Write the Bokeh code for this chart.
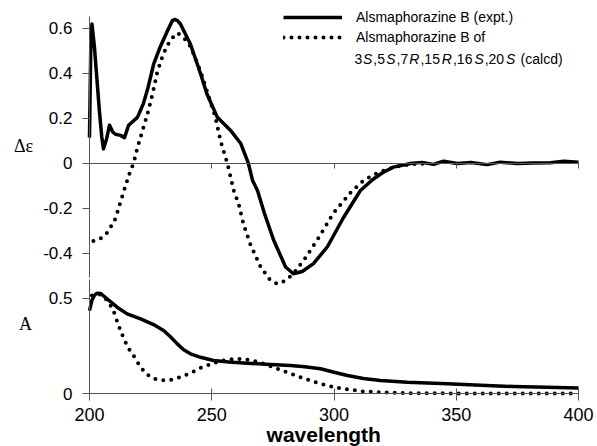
from bokeh.plotting import figure
from bokeh.models import (Range1d, LinearAxis, FixedTicker, CustomJSTickFormatter,
                          Label, Legend, LegendItem)
from bokeh.embed import file_html
from bokeh.resources import INLINE

# ---------------- data ----------------
cd_expt_wl = [200, 200.5, 201, 202, 203, 204, 205, 205.7, 207, 208.2, 209.5, 210.6, 212.7,
              214.3, 216, 219.6, 222, 224, 226.2, 229, 231.9, 233.9, 234.8, 236, 237.2,
              241.3, 245.4, 248, 252.3, 257.7, 261.8, 265, 266.7, 268.7, 271.5, 275.3,
              280.2, 283.4, 287, 291.6, 297.3, 303.9, 310.8, 316, 320, 324.3, 331.3, 336,
              340.7, 344.8, 350.4, 356, 362.6, 368, 375, 381.6, 388.5, 394, 400]
cd_expt = [0.115, 0.50, 0.62, 0.52, 0.38, 0.24, 0.12, 0.065, 0.11, 0.17, 0.14, 0.13, 0.125,
           0.115, 0.17, 0.205, 0.265, 0.34, 0.44, 0.52, 0.59, 0.635, 0.64, 0.635, 0.62,
           0.53, 0.40, 0.31, 0.205, 0.147, 0.09, 0.0, -0.076, -0.12, -0.22, -0.34,
           -0.46, -0.49, -0.48, -0.445, -0.37, -0.24, -0.12, -0.07, -0.04, -0.016, 0.0, 0.005,
           -0.004, 0.01, 0.0, 0.004, -0.005, 0.006, 0.0, 0.002, 0.003, 0.01, 0.006]

cd_calc_wl = [201.6, 203, 205.2, 207.5, 209.3, 210.6, 212.7, 214.7, 216.8, 218, 219.6, 221.7,
              223.7, 225.8, 227.8, 230.3, 233.1, 235.9, 238.5, 241.3, 245.4, 248.7, 251.5,
              253.6, 256.4, 259, 261, 263, 265.8, 270, 274, 276.9, 280.2, 283.4, 288.3,
              293.7, 299.8, 306.7, 312, 318, 325, 332, 338]
cd_calc = [-0.345, -0.34, -0.33, -0.305, -0.27, -0.245, -0.17, -0.10, -0.03, 0.0, 0.07, 0.147,
           0.22, 0.31, 0.41, 0.49, 0.55, 0.58, 0.56, 0.52, 0.41, 0.30, 0.205,
           0.10, 0.0, -0.12, -0.18, -0.27, -0.36, -0.46, -0.52, -0.535, -0.52, -0.49, -0.42,
           -0.33, -0.22, -0.13, -0.076, -0.04, -0.015, -0.003, 0.0]

uv_expt_wl = [200, 201, 202, 203, 204.5, 207.2, 211.3, 215.4, 220.9, 226.2, 230.3, 233,
              235.9, 238.5, 241.3, 245.4, 250.7, 257, 264.6, 272, 282.2, 288, 294.5, 300,
              305.5, 312, 319, 330, 346.4, 360, 373.4, 387, 400]
uv_expt = [0.435, 0.49, 0.515, 0.526, 0.525, 0.497, 0.453, 0.418, 0.392, 0.362, 0.331, 0.30,
           0.261, 0.23, 0.209, 0.191, 0.174, 0.166, 0.16, 0.155, 0.148, 0.142, 0.131, 0.113,
           0.096, 0.08, 0.07, 0.06, 0.052, 0.045, 0.038, 0.034, 0.03]

uv_calc_wl = [201, 202.5, 204.5, 206, 207.8, 209.8, 211.9, 214, 216, 218, 220.9, 223.6, 226.2,
              229.7, 233.1, 237.2, 241.3, 245.4, 250.7, 255, 258.9, 262, 264.6, 268, 271.2,
              278.1, 286.3, 294.5, 301.4, 312, 322, 332.5, 350, 375, 400]
uv_calc = [0.514, 0.52, 0.519, 0.505, 0.48, 0.435, 0.357, 0.289, 0.237, 0.2, 0.139, 0.101, 0.08,
           0.07, 0.073, 0.087, 0.108, 0.135, 0.16, 0.175, 0.183, 0.182, 0.178, 0.17, 0.158,
           0.125, 0.087, 0.052, 0.031, 0.012, 0.006, 0.003, 0.002, 0.002, 0.002]

x_ticks = [200, 250, 300, 350, 400]
cd_ticks = [-0.4, -0.2, 0, 0.2, 0.4, 0.6]
uv_ticks = [0, 0.5]

legend_labels = ["Alsmaphorazine B (expt.)", "Alsmaphorazine B of"]
# third legend line as (text, italic) runs
legend_line3 = [("3", False), ("S", True), (",5", False), ("S", True), (",7", False),
                ("R", True), (",15", False), ("R", True), (",16", False), ("S", True),
                (",20", False), ("S", True), (" (calcd)", False)]

# ---------------- figure (frame = whole canvas, axes placed inside) ----------------
AX = "#555555"
SANS = "Liberation Sans"
SERIF = "Liberation Serif"
W, H = 597, 446

p = figure(width=W, height=H, output_backend="svg", toolbar_location=None,
           x_range=Range1d(163.6, 407.77), y_range=Range1d(-1.2578, 0.7244),
           x_axis_type=None, y_axis_type=None,
           min_border_left=0, min_border_right=0, min_border_top=0, min_border_bottom=0)
p.extra_y_ranges = {"uv": Range1d(-0.2756, 2.0570)}
p.outline_line_color = None
p.background_fill_color = "white"
p.border_fill_color = "white"

fmt = CustomJSTickFormatter(code="return Math.abs(tick) < 1e-9 ? '0' : tick.toFixed(1);")


def style(ax, size, tin, tout):
    ax.axis_line_color = AX
    ax.axis_line_width = 1
    ax.major_tick_line_color = AX
    ax.major_tick_in = tin
    ax.major_tick_out = tout
    ax.minor_tick_line_color = None
    ax.major_label_text_font = SANS
    ax.major_label_text_font_size = f"{size}px"
    ax.major_label_text_color = "black"


ax_cd = LinearAxis(fixed_location=200, bounds=(-0.507, 0.653),
                   ticker=FixedTicker(ticks=cd_ticks), formatter=fmt)
style(ax_cd, 17, 0, 7)
ax_cd.major_label_standoff = 10
p.add_layout(ax_cd, "left")

ax_uv = LinearAxis(y_range_name="uv", fixed_location=200, bounds=(0, 0.598),
                   ticker=FixedTicker(ticks=uv_ticks), formatter=fmt)
style(ax_uv, 17, 0, 7)
ax_uv.major_label_standoff = 10
p.add_layout(ax_uv, "left")

ax_x = LinearAxis(y_range_name="uv", fixed_location=0, bounds=(200, 400),
                  ticker=FixedTicker(ticks=x_ticks))
style(ax_x, 18, 5, 7)
ax_x.major_label_standoff = 7
p.add_layout(ax_x, "below")

ax_zero = LinearAxis(fixed_location=0, bounds=(200, 400),
                     ticker=FixedTicker(ticks=x_ticks[1:]))
style(ax_zero, 18, 0, 5)
ax_zero.major_label_text_font_size = "0px"
ax_zero.major_label_text_color = None
p.add_layout(ax_zero, "below")

# ---------------- curves ----------------
r_expt = p.line(cd_expt_wl, cd_expt, line_color="black", line_width=3.5, line_join="round")
r_calc = p.line(cd_calc_wl, cd_calc, line_color="black", line_width=4,
                line_dash="0 8", line_cap="round")
p.line(uv_expt_wl, uv_expt, y_range_name="uv", line_color="black", line_width=3.5,
       line_join="round")
p.line(uv_calc_wl, uv_calc, y_range_name="uv", line_color="black", line_width=4,
       line_dash="0 8", line_cap="round")

# ---------------- axis titles ----------------
p.add_layout(Label(x=200, y=0.0756, x_offset=-66, text="Δε", text_font=SERIF,
                   text_font_size="18px", text_align="center", text_baseline="middle",
                   text_color="black"))
p.add_layout(Label(x=200, y=0.365, y_range_name="uv", x_offset=-64, text="A",
                   text_font=SERIF, text_font_size="18px", text_align="center",
                   text_baseline="middle", text_color="black"))
p.add_layout(Label(x=295.8, y=0, y_range_name="uv", y_offset=-41, text="wavelength",
                   text_font=SANS, text_font_size="21px", text_font_style="bold",
                   text_align="center", text_baseline="alphabetic", text_color="black"))

# ---------------- legend ----------------
legend = Legend(items=[LegendItem(label=legend_labels[0], renderers=[r_expt]),
                       LegendItem(label=legend_labels[1], renderers=[r_calc])],
                location=(283, 398.7), padding=0, spacing=0, margin=0,
                label_height=20, glyph_height=20, glyph_width=59, label_standoff=14,
                label_text_font=SANS, label_text_font_size="14px",
                label_text_color="black", border_line_color=None,
                background_fill_alpha=0)
p.add_layout(legend)

widths = {"3": .556, "5": .556, "7": .556, "1": .556, "6": .556, "2": .556, "0": .556,
          "S": .667, "R": .722, ",": .278, " ": .278, "(": .333, ")": .333, "c": .5,
          "a": .556, "l": .222, "d": .556}
off = 0.0
for txt, ital in legend_line3:
    lead = len(txt) - len(txt.lstrip(" "))
    off += lead * widths[" "] * 14 * 1.1
    p.add_layout(Label(x=308.4, y=0.4622, x_offset=off, text=txt.strip(), text_font=SANS,
                       text_font_size="14px", text_font_style="italic" if ital else "normal",
                       text_align="left", text_baseline="middle", text_color="black"))
    off += sum(widths[c] for c in txt.strip()) * 14 * 1.1

open("out.html", "w").write(file_html(p, INLINE))
